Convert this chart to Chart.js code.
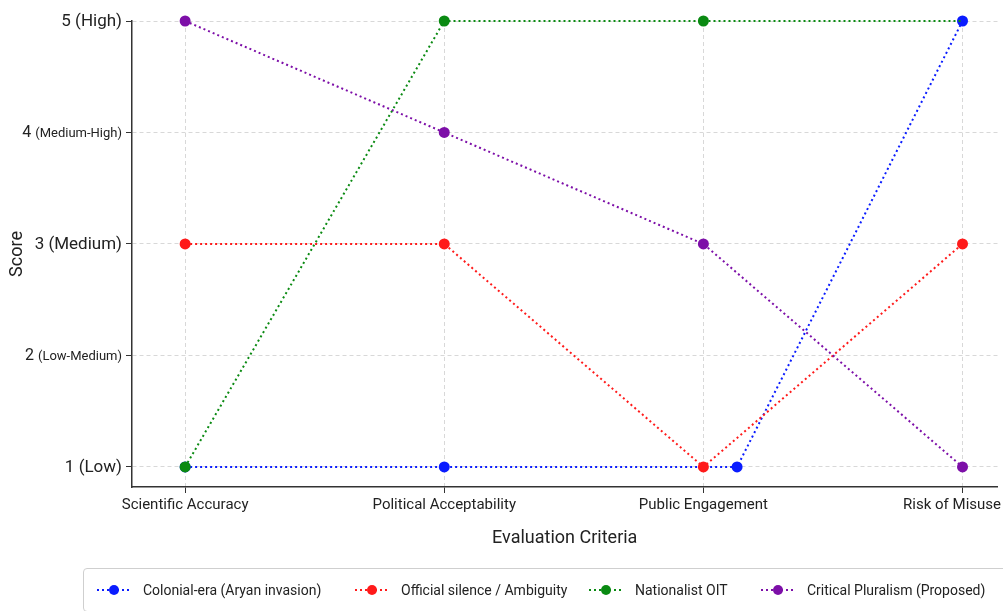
<!DOCTYPE html>
<html>
<head>
<meta charset="utf-8">
<script src="https://cdn.jsdelivr.net/npm/chart.js@4"></script>
<style>
  body { margin: 0; background: #fff; font-family: Roboto, "DejaVu Sans", sans-serif; }
  #wrap { position: relative; width: 1003px; height: 611px; overflow: hidden; }
  #legendBox {
    position: absolute; left: 83px; top: 568px; width: 940px; height: 44px;
    border: 1px solid #cfcfcf; border-radius: 4px; box-sizing: border-box;
  }
  .item { position: absolute; top: 0; height: 42px; display: flex; align-items: center;
    font-size: 14px; color: #222; white-space: nowrap; }
  .item svg { margin-right: 11px; }
</style>
</head>
<body>
<div id="wrap">
  <canvas id="chart" width="1003" height="611"></canvas>
  <div id="legendBox"></div>
</div>
<script>
// categories and scores
const categories = ['Scientific Accuracy', 'Political Acceptability', 'Public Engagement', 'Risk of Misuse'];
const yTickLabels = ['1 (Low)', '2 (Low-Medium)', '3 (Medium)', '4 (Medium-High)', '5 (High)'];

const colonialScores = [1, 1, 1, 5];
const colonialX = [0, 1, 2.13, 3];   // third point sits a bit right of its category in the original
const officialScores = [3, 3, 1, 3];
const nationalistScores = [1, 5, 5, 5];
const pluralismScores = [5, 4, 3, 1];

const seriesNames = ['Colonial-era (Aryan invasion)', 'Official silence / Ambiguity', 'Nationalist OIT', 'Critical Pluralism (Proposed)'];
const seriesColors = ['#0a1cff', '#ff1a1a', '#0a8a12', '#7d0fa8'];

function toPoints(values, xs) {
    let pts = [];
    for (var i = 0; i < values.length; i++) {
        pts.push({ x: xs ? xs[i] : i, y: values[i] });
    }
    return pts;
}

function makeDataset(idx, values, xs, order) {
    return {
        label: seriesNames[idx],
        data: toPoints(values, xs),
        borderColor: seriesColors[idx],
        backgroundColor: seriesColors[idx],
        borderWidth: 2,
        borderDash: [2, 3],
        pointRadius: 5.5,
        pointHoverRadius: 5.5,
        pointBorderWidth: 0,
        tension: 0,
        clip: false,
        order: order
    };
}

let datasets = [
    makeDataset(0, colonialScores, colonialX, 4),
    makeDataset(1, officialScores, null, 3),
    makeDataset(2, nationalistScores, null, 2),
    makeDataset(3, pluralismScores, null, 1)
];
// the blue marker shows on top at the last category, so hide green's marker there
datasets[2].pointRadius = ctx => (ctx.dataIndex === 3 ? 0 : 5.5);

// tick labels: y with a larger number and smaller description for the long ones,
// x kept inside the canvas on the right
const tickLabelPlugin = {
    id: 'tickLabels',
    afterDraw(chart) {
        const ctx = chart.ctx;
        const yScale = chart.scales.y;
        const xScale = chart.scales.x;
        ctx.save();
        ctx.fillStyle = '#222';
        ctx.textBaseline = 'middle';
        ctx.textAlign = 'left';
        for (var i = 0; i < yTickLabels.length; i++) {
            const label = yTickLabels[i];
            const cut = label.indexOf(' ');
            const num = label.substring(0, cut + 1);
            const rest = label.substring(cut + 1);
            const isLong = rest.length > 8;
            const numFont = (isLong ? 16 : 17) + 'px Roboto';
            const restFont = (isLong ? 13 : 17) + 'px Roboto';
            ctx.font = numFont;
            const wNum = ctx.measureText(num).width;
            ctx.font = restFont;
            const wRest = ctx.measureText(rest).width;
            const y = yScale.getPixelForValue(i + 1);
            let x = 122 - wNum - wRest;
            ctx.font = numFont;
            ctx.fillText(num, x, y + 1);
            ctx.font = restFont;
            ctx.fillText(rest, x + wNum, y + 1);
        }
        ctx.font = '15px Roboto';
        for (var j = 0; j < categories.length; j++) {
            const w = ctx.measureText(categories[j]).width;
            let x = xScale.getPixelForValue(j) - w / 2;
            if (x + w > chart.width - 2) x = chart.width - 2 - w;
            ctx.fillText(categories[j], x, 505);
        }
        ctx.restore();
    }
};

const gridOpts = {
    color: '#d8d8d8',
    tickColor: '#333',
    tickBorderDash: [],
    tickLength: 6,
    lineWidth: 1
};

const config = {
    type: 'line',
    data: { datasets: datasets },
    options: {
        responsive: false,
        animation: false,
        layout: { padding: { top: 21, right: 0, bottom: 0, left: 0 } },
        plugins: { legend: { display: false }, tooltip: { enabled: false } },
        scales: {
            x: {
                type: 'linear',
                min: -0.205,
                max: 3.135,
                afterBuildTicks: scale => { scale.ticks = categories.map((c, i) => ({ value: i })); },
                afterFit: scale => {
                    scale.height = 124;
                    scale.paddingLeft = 0;
                    scale.paddingRight = 0;
                },
                ticks: { callback: () => '', padding: 0, maxRotation: 0, autoSkip: false },
                grid: gridOpts,
                border: { display: true, color: '#333', width: 1.5, dash: [4, 3] },
                title: {
                    display: true,
                    text: 'Evaluation Criteria',
                    font: { family: 'Roboto', size: 18 },
                    color: '#222',
                    padding: { top: 0, bottom: 62 }
                }
            },
            y: {
                type: 'linear',
                min: 0.82,
                max: 5,
                afterBuildTicks: scale => { scale.ticks = yTickLabels.map((t, i) => ({ value: i + 1 })); },
                afterFit: scale => { scale.width = 132; },
                ticks: { callback: () => '', padding: 0 },
                grid: gridOpts,
                border: { display: true, color: '#333', width: 1.5, dash: [4, 3] },
                title: {
                    display: true,
                    text: 'Score',
                    font: { family: 'Roboto', size: 18 },
                    color: '#222',
                    padding: { top: 7, bottom: 0 }
                }
            }
        }
    },
    plugins: [tickLabelPlugin]
};

let chartObj = new Chart(document.getElementById('chart'), config);

// legend: dotted line with a marker, then the series name
const legendLefts = [12, 270, 504, 676];
const legendBox = document.getElementById('legendBox');
for (var i = 0; i < seriesNames.length; i++) {
    const c = seriesColors[i];
    const item = document.createElement('div');
    item.className = 'item';
    item.style.left = legendLefts[i] + 'px';
    item.innerHTML =
        '<svg width="36" height="12"><line x1="1" y1="6" x2="35" y2="6" stroke="' + c +
        '" stroke-width="2" stroke-dasharray="2,3"/><circle cx="18" cy="6" r="5" fill="' + c + '"/></svg>' +
        '<span>' + seriesNames[i] + '</span>';
    legendBox.appendChild(item);
}
</script>
</body>
</html>
